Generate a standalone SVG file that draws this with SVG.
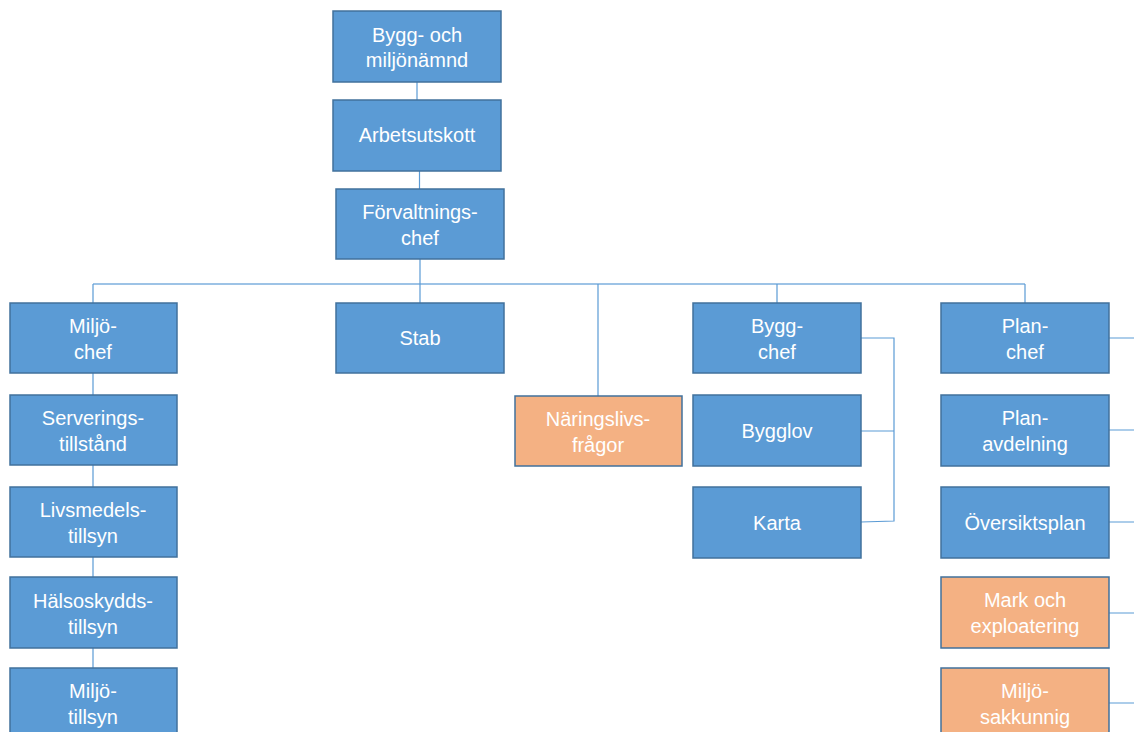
<svg xmlns="http://www.w3.org/2000/svg" width="1134" height="732" viewBox="0 0 1134 732">
<style>
.b rect{fill:#5B9BD5;stroke:#41719C;stroke-width:1.5}
.o rect{fill:#F4B183;stroke:#41719C;stroke-width:1.5}
text{font-family:"Liberation Sans",Arial,sans-serif;font-size:20px;fill:#ffffff;text-anchor:middle}
#connectors path{fill:none;stroke:#5B9BD5;stroke-width:1.2}
#connectors path.l{stroke:#9DC3E6;stroke-width:2}
</style>
<rect width="1134" height="732" fill="#ffffff"/>
<g id="connectors">
<path class="l" d="M93,284H1025"/>
<path d="M417,82V100M419.5,171V189M420,259V303"/>
<path d="M93,284V303M93,373V395M93,465V487M93,557V577M93,648V668"/>
<path d="M598,284V396M777,284V303M1025,284V303"/>
<path d="M861,338H894V521L861,522M861,431H894"/>
<path d="M1109,338H1134M1109,430H1134M1109,522H1134M1109,613H1134M1109,703H1134"/>
</g>
<g id="n1" class="b"><rect x="333" y="11" width="168" height="71"/><text x="417" y="42">Bygg- och</text><text x="417" y="67">miljönämnd</text></g>
<g id="n2" class="b"><rect x="333" y="100" width="168" height="71"/><text x="417" y="142">Arbetsutskott</text></g>
<g id="n3" class="b"><rect x="336" y="189" width="168" height="70"/><text x="420" y="219">Förvaltnings-</text><text x="420" y="245">chef</text></g>
<g id="n4" class="b"><rect x="10" y="303" width="167" height="70"/><text x="93" y="333">Miljö-</text><text x="93" y="359">chef</text></g>
<g id="n5" class="b"><rect x="10" y="395" width="167" height="70"/><text x="93" y="425">Serverings-</text><text x="93" y="451">tillstånd</text></g>
<g id="n6" class="b"><rect x="10" y="487" width="167" height="70"/><text x="93" y="517">Livsmedels-</text><text x="93" y="543">tillsyn</text></g>
<g id="n7" class="b"><rect x="10" y="577" width="167" height="71"/><text x="93" y="608">Hälsoskydds-</text><text x="93" y="634">tillsyn</text></g>
<g id="n8" class="b"><rect x="10" y="668" width="167" height="70"/><text x="93" y="698">Miljö-</text><text x="93" y="724">tillsyn</text></g>
<g id="n9" class="b"><rect x="336" y="303" width="168" height="70"/><text x="420" y="345">Stab</text></g>
<g id="n10" class="o"><rect x="515" y="396" width="167" height="70"/><text x="598" y="426">Näringslivs-</text><text x="598" y="452">frågor</text></g>
<g id="n11" class="b"><rect x="693" y="303" width="168" height="70"/><text x="777" y="333">Bygg-</text><text x="777" y="359">chef</text></g>
<g id="n12" class="b"><rect x="693" y="395" width="168" height="71"/><text x="777" y="438">Bygglov</text></g>
<g id="n13" class="b"><rect x="693" y="487" width="168" height="71"/><text x="777" y="530">Karta</text></g>
<g id="n14" class="b"><rect x="941" y="303" width="168" height="70"/><text x="1025" y="333">Plan-</text><text x="1025" y="359">chef</text></g>
<g id="n15" class="b"><rect x="941" y="395" width="168" height="71"/><text x="1025" y="425">Plan-</text><text x="1025" y="451">avdelning</text></g>
<g id="n16" class="b"><rect x="941" y="487" width="168" height="71"/><text x="1025" y="530">Översiktsplan</text></g>
<g id="n17" class="o"><rect x="941" y="577" width="168" height="71"/><text x="1025" y="607">Mark och</text><text x="1025" y="633">exploatering</text></g>
<g id="n18" class="o"><rect x="941" y="668" width="168" height="70"/><text x="1025" y="698">Miljö-</text><text x="1025" y="724">sakkunnig</text></g>
</svg>
